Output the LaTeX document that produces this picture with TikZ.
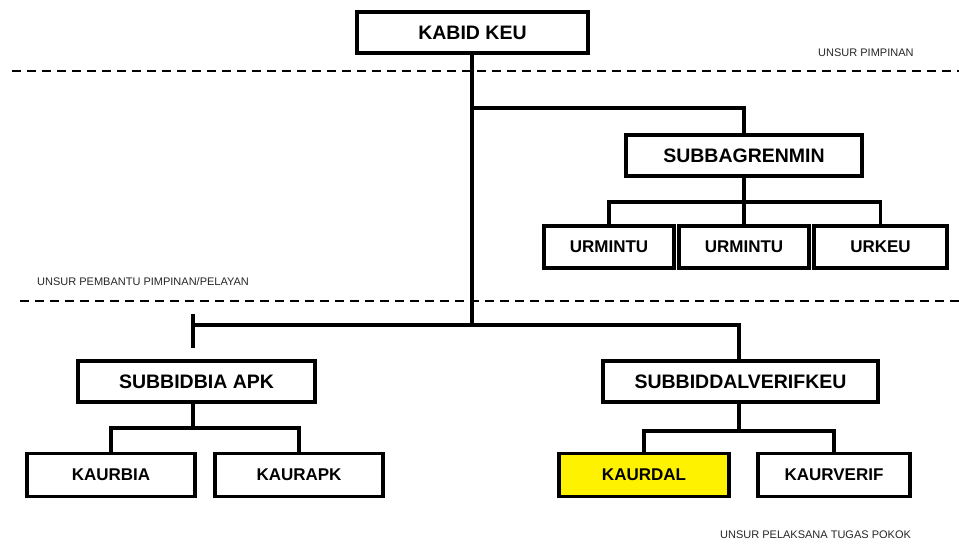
\documentclass[tikz,border=0pt]{standalone}
\usepackage{fontspec}
\setmainfont{Liberation Sans}
\usepackage{tikz}
\usetikzlibrary{positioning}

\begin{document}
\begin{tikzpicture}[x=1pt, y=-1pt]
  \tikzstyle{unit}=[draw, line width=3.3pt, inner sep=0, minimum height=41pt, font=\bfseries\fontsize{19.5}{22}\selectfont]
  \tikzstyle{small-unit}=[unit, minimum height=43pt, font=\bfseries\fontsize{17}{20}\selectfont]
  \tikzstyle{line}=[line width=3.2pt]
  \tikzstyle{level}=[line width=2.6pt, dash pattern=on 9pt off 6pt]
  \tikzstyle{tag}=[inner sep=0, text=black!85, font=\fontsize{11}{13}\selectfont]

  \useasboundingbox (0,0) rectangle (959,544);

  \node [unit, minimum width=231pt] (KABID) at (472.5, 32.5) {KABID KEU};
  \node [unit, minimum width=236pt] (SUBBAG) at (744, 155.5) {SUBBAGRENMIN};
  \node [small-unit, minimum width=130pt, minimum height=42pt] (UR-A) at (609, 247) {URMINTU};
  \node [small-unit, minimum width=130pt, minimum height=42pt] (UR-B) at (744, 247) {URMINTU};
  \node [small-unit, minimum width=133pt, minimum height=42pt] (UR-C) at (880.5, 247) {URKEU};

  \node [unit, minimum width=237pt] (BIA) at (196.5, 381.5) {SUBBIDBIA APK};
  \node [unit, minimum width=275pt] (DAL) at (740.5, 381.5) {SUBBIDDALVERIFKEU};
  \node [small-unit, minimum width=168pt] (K-BIA) at (111, 475) {KAURBIA};
  \node [small-unit, minimum width=168pt] (K-APK) at (299, 475) {KAURAPK};
  \node [small-unit, minimum width=170pt, fill=yellow] (K-DAL) at (644, 475) {KAURDAL};
  \node [small-unit, minimum width=152pt] (K-VER) at (834, 475) {KAURVERIF};

  \node [tag, anchor=west] (T-1) at (818, 53) {UNSUR PIMPINAN};
  \node [tag, anchor=west] (T-2) at (37, 282) {UNSUR PEMBANTU PIMPINAN/PELAYAN};
  \node [tag, anchor=west] (T-3) at (720, 535) {UNSUR PELAKSANA TUGAS POKOK};

  \coordinate (L1-A) at (12, 71);
  \coordinate (L1-B) at (959, 71);
  \coordinate (L2-A) at (20, 301);
  \coordinate (L2-B) at (959, 301);
  \draw [level] (L1-A) -- (L1-B);
  \draw [level] (L2-A) -- (L2-B);

  \coordinate (J-top) at (472, 108);
  \coordinate (J-mid) at (472, 325);
  \coordinate (J-cap) at (193, 325);
  \coordinate (cap-a) at (193, 314);
  \coordinate (cap-b) at (193, 348);
  \coordinate (J-ur) at (744, 202);
  \coordinate (J-bia) at (193, 428);
  \coordinate (J-dal) at (739, 431);

  \draw [line] (KABID.south -| J-top) -- (J-mid);
  \draw [line] (J-top) -| (SUBBAG.north);
  \draw [line] (J-cap) -- (J-mid) -| (DAL.north -| J-dal);
  \draw [line] (cap-a) -- (cap-b);

  \draw [line] (SUBBAG.south) -- (UR-B.north);
  \draw [line] (UR-A.north) |- (J-ur) -| (UR-C.north);

  \draw [line] (BIA.south -| J-bia) -- (J-bia);
  \draw [line] (K-BIA.north) |- (J-bia) -| (K-APK.north);

  \draw [line] (DAL.south -| J-dal) -- (J-dal);
  \draw [line] (K-DAL.north) |- (J-dal) -| (K-VER.north);
\end{tikzpicture}
\end{document}
